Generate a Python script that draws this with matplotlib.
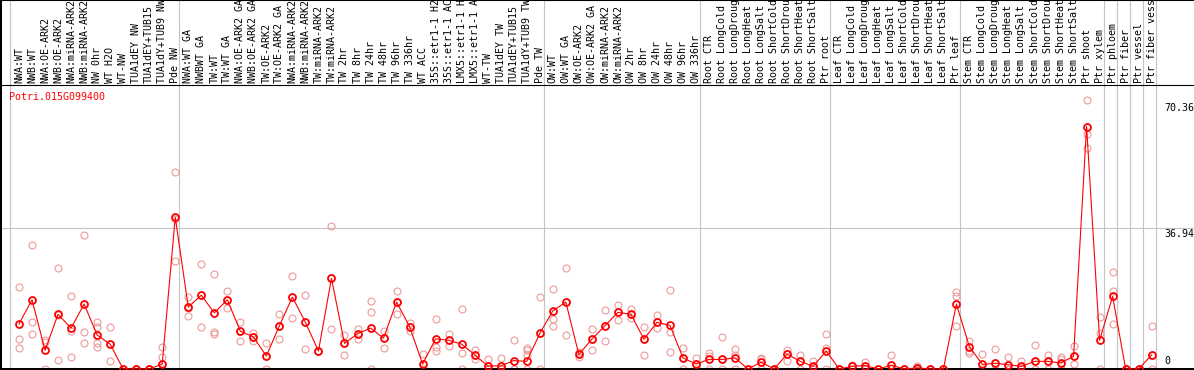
import numpy as np
import matplotlib.pyplot as plt

gene = 'Potri.015G099400'

labels = ['NWA:WT', 'NWB:WT', 'NWA:OE-ARK2', 'NWB:OE-ARK2', 'NWA:miRNA-ARK2', 'NWB:miRNA-ARK2',
          'NW 0hr', 'WT H2O', 'WT-NW', 'TUA1dEY NW', 'TUA1dEY+TUB15', 'TUA1dY+TUB9 NW', 'Pde NW',
          'NWA:WT GA', 'NWBWT GA', 'TW:WT', 'TW:WT GA', 'NWA:OE-ARK2 GA', 'NWB:OE-ARK2 GA',
          'TW:OE-ARK2', 'TW:OE-ARK2 GA', 'NWA:miRNA-ARK2', 'NWB:miRNA-ARK2', 'TW:miRNA-ARK2',
          'TW:miRNA-ARK2', 'TW 2hr', 'TW 8hr', 'TW 24hr', 'TW 48hr', 'TW 96hr', 'TW 336hr', 'WT ACC',
          '35S::etr1-1 H2', '35S::etr1-1 AC', 'LMX5::etr1-1 H', 'LMX5::etr1-1 A', 'WT-TW',
          'TUA1dEY TW', 'TUA1dEY+TUB15', 'TUA1dY+TUB9 TW', 'Pde TW',
          'OW:WT', 'OW:WT GA', 'OW:OE-ARK2', 'OW:OE-ARK2 GA', 'OW:miRNA-ARK2', 'OW:miRNA-ARK2',
          'OW 2hr', 'OW 8hr', 'OW 24hr', 'OW 48hr', 'OW 96hr', 'OW 336hr',
          'Root CTR', 'Root LongCold', 'Root LongDroug', 'Root LongHeat', 'Root LongSalt',
          'Root ShortCold', 'Root ShortDrou', 'Root ShortHeat', 'Root ShortSalt', 'Ptr root',
          'Leaf CTR', 'Leaf LongCold', 'Leaf LongDroug', 'Leaf LongHeat', 'Leaf LongSalt',
          'Leaf ShortCold', 'Leaf ShortDrou', 'Leaf ShortHeat', 'Leaf ShortSalt', 'Ptr leaf',
          'Stem CTR', 'Stem LongCold', 'Stem LongDroug', 'Stem LongHeat', 'Stem LongSalt',
          'Stem ShortCold', 'Stem ShortDrou', 'Stem ShortHeat', 'Stem ShortSalt', 'Ptr shoot',
          'Ptr xylem', 'Ptr phloem', 'Ptr fiber', 'Ptr vessel', 'Ptr fiber vess']

group_sizes = [13, 28, 12, 10, 10, 11, 1, 1, 1, 1]

mean_expr = [11.8, 18.1, 4.9, 14.3, 10.7, 17.0, 8.9, 6.5, 0, 0, 0, 1.3, 39.7,
             16.2, 19.3, 14.7, 18.1, 9.9, 8.4, 3.4, 11.3, 18.8, 12.2, 4.7, 23.7, 6.7, 9.2,
             10.7, 8.1, 17.5, 11.1, 1.3, 7.9, 7.5, 6.5, 3.7, 0.8, 0.8, 2.2, 2.0, 9.3,
             15.2, 17.5, 3.8, 7.8, 11.3, 14.8, 14.3, 7.8, 12.2, 11.4, 2.9, 1.3,
             2.5, 2.5, 2.9, 0, 1.8, 0, 3.9, 2.0, 0.7, 4.7,
             0, 0.7, 0.9, 0, 1.0, 0, 0.3, 0, 0, 17.0,
             5.8, 1.2, 1.5, 1.1, 0.7, 2.0, 2.0, 1.6, 3.3, 63.4, 7.5,
             19.0, 0, 0, 3.7]

replicates = [[21.4, 7.9, 5.4], [32.5, 12.2, 9.1], [7.6, 7.1, 0], [26.4, 14.2, 2.3],
              [19.0, 9.9, 3.1], [35.1, 9.6, 6.7], [12.4, 10.9, 6.7, 5.8], [11.0, 6.5, 2.0],
              [0, 0, 0], [0, 0, 0], [0, 0, 0], [5.8, 3.2, 0], [51.6, 39.2, 28.3],
              [18.8, 16.0, 13.8], [27.5, 19.3, 11.0], [24.9, 9.6, 9.1], [20.4, 18.0, 15.9],
              [12.3, 9.9, 7.3], [9.5, 8.4, 7.4], [6.7, 3.4, 0], [14.3, 11.3, 7.9],
              [24.3, 18.8, 13.3], [19.3, 12.2, 5.2], [4.8, 4.6, 4.7], [37.3, 23.7, 10.5],
              [8.9, 6.7, 3.7], [10.4, 9.2, 7.8], [17.8, 14.9, 0], [9.9, 8.1, 5.4],
              [20.3, 17.5, 14.3], [12.0, 11.1, 10.0], [3.9, 0, 0], [13.1, 5.8, 4.8],
              [9.2, 7.5, 6.1], [15.7, 4.1, 0], [5.0, 3.7, 2.7], [2.6, 0, 0], [2.8, 0, 0],
              [7.6, 0, 0], [5.4, 5.0, 3.7, 0], [18.8, 9.3, 0],
              [20.9, 13.0, 11.2], [26.4, 17.5, 8.9], [4.5, 3.8, 3.2], [10.4, 7.8, 5.0],
              [15.4, 11.3, 7.2], [16.8, 14.8, 12.8], [15.6, 14.3, 13.4], [11.0, 7.8, 3.7],
              [14.1, 12.2, 10.8], [20.7, 9.6, 4.4], [5.5, 2.9, 0], [2.9, 1.3, 0],
              [4.1, 3.5, 0], [8.3, 2.5, 0], [5.2, 3.7, 0], [0, 0, 0], [3.0, 2.5, 0],
              [0, 0, 0], [5.1, 3.9, 2.1], [3.7, 2.0, 0], [2.1, 0.7, 0], [9.1, 5.4, 0],
              [0, 0, 0], [1.0, 0.7, 0], [1.8, 0.9, 0], [0, 0, 0], [3.7, 1.0, 0],
              [0, 0, 0], [0.9, 0.3, 0], [0, 0, 0], [0, 0, 0], [20.1, 19.0, 11.3],
              [7.3, 4.8, 4.1], [3.9, 1.2, 0], [5.2, 1.5, 0], [3.1, 1.1, 0], [2.0, 0.7, 0],
              [6.3, 2.0, 0], [3.7, 2.0, 0], [3.1, 2.5, 0], [6.0, 3.3, 1.3],
              [70.36, 61.5, 57.9], [13.5, 9.3, 0],
              [25.4, 20.5, 11.7], [0, 0, 0], [0, 0, 0], [11.3, 3.7, 0]]

ytick_vals = [0, 36.94, 70.36]

mono = 'DejaVu Sans Mono'
fs = 7.2

x = np.arange(len(labels))
rep_x = np.concatenate([[i] * len(r) for i, r in enumerate(replicates)])
rep_y = np.concatenate(replicates)

fig = plt.figure(figsize=(11.94, 3.70), dpi=100)
ax = fig.add_axes([0, 0, 1, 1])
ax.set_xlim(-1.46, 90.25)
ax.set_ylim(-0.26, 96.5)
sep = 74.3  # line under the sample labels

# group boundaries
starts = np.cumsum([0] + group_sizes)
for s in starts:
    ax.axvline(s - 0.7, color='#c4c4c4', lw=0.8, zorder=0)
ax.axhline(ytick_vals[1], color='#c4c4c4', lw=0.8, zorder=0)
ax.axhline(sep, color='black', lw=0.8, zorder=1)

ax.plot(rep_x, rep_y, 'o', ms=5, mfc='none', mec='#ee9999', mew=0.8, zorder=2)
ax.plot(x, mean_expr, '-', color='red', lw=0.8, marker='o', ms=5,
        mfc='none', mec='red', mew=1.3, zorder=3)

for i, lab in enumerate(labels):
    ax.text(i, sep + 0.5, lab, rotation=90, ha='center', va='bottom',
            fontsize=fs, family=mono)

xr = 87.94
ax.text(xr, ytick_vals[2] - 0.7, '70.36', ha='left', va='top', fontsize=fs, family=mono)
ax.text(xr, ytick_vals[1] - 0.3, '36.94', ha='left', va='top', fontsize=fs, family=mono)
ax.text(xr, ytick_vals[0] + 0.8, '0', ha='left', va='bottom', fontsize=fs, family=mono)

fig.text(9.5 / 1194, 1 - 97 / 370, gene, color='red', ha='left', va='center',
         fontsize=fs, family=mono)

ax.set_xticks([])
ax.set_yticks([])
ax.spines['right'].set_visible(False)
ax.spines['left'].set_linewidth(2.9)
ax.spines['bottom'].set_linewidth(2.9)
ax.spines['top'].set_linewidth(1.5)

fig.savefig('out.png', dpi=100)
